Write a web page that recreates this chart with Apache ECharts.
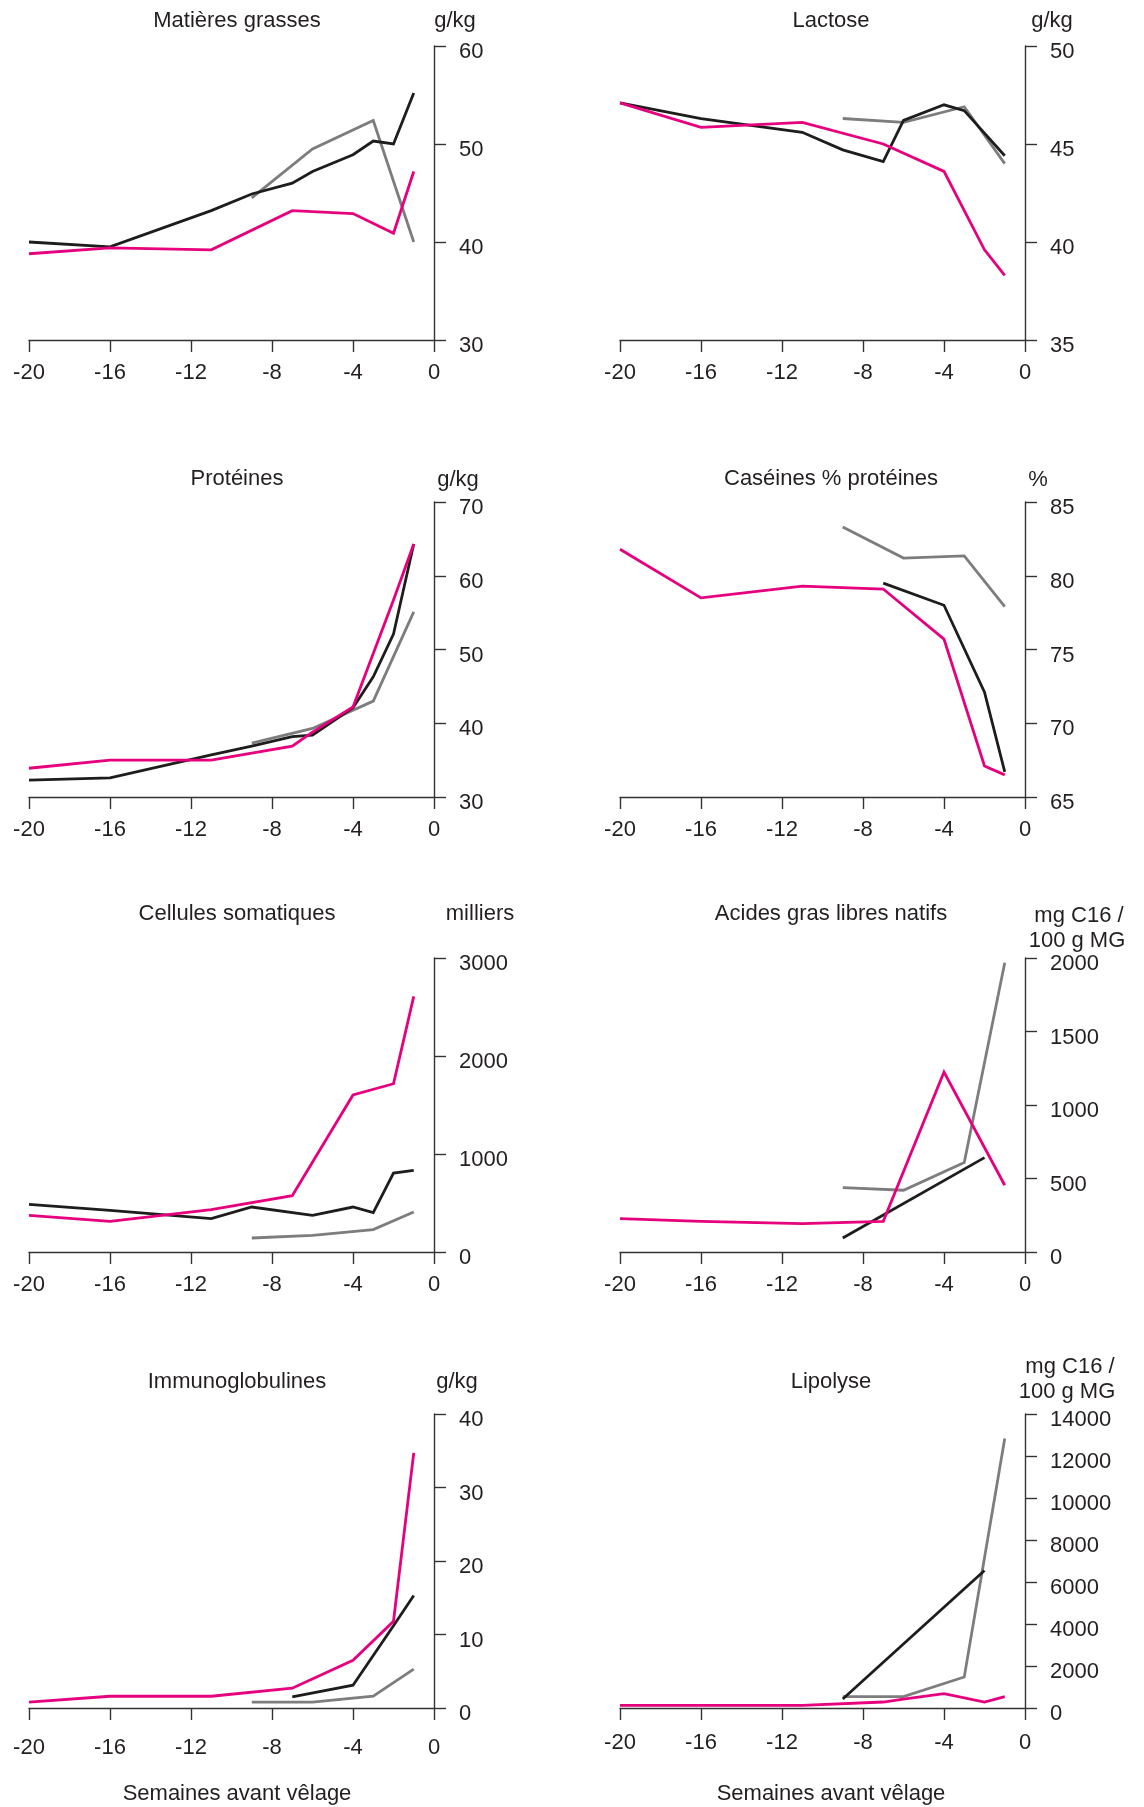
<!DOCTYPE html>
<html>
<head>
<meta charset="utf-8">
<script src="https://cdn.jsdelivr.net/npm/echarts@6/dist/echarts.min.js"></script>
<style>
html,body{margin:0;padding:0;background:#fff;}
#chart{width:1144px;height:1807px;}
</style>
</head>
<body>
<div id="chart"></div>
<script>
// ---- Data: [week before calving, value] ----
const xTicks = [-20, -16, -12, -8, -4, 0];

// Matières grasses (g/kg)
const fatGray  = [[-9,44.5],[-6,49.5],[-3,52.4],[-1,40.0]];
const fatBlack = [[-20,40.0],[-16,39.5],[-11,43.2],[-9,44.9],[-7,46.0],[-6,47.2],[-4,48.9],[-3,50.3],[-2,50.0],[-1,55.2]];
const fatPink  = [[-20,38.8],[-16,39.4],[-11,39.2],[-7,43.2],[-4,42.9],[-2,40.9],[-1,47.2]];

// Lactose (g/kg)
const lacGray  = [[-9,46.3],[-6,46.1],[-3,46.9],[-1,44.0]];
const lacBlack = [[-20,47.1],[-16,46.3],[-11,45.6],[-9,44.7],[-7,44.1],[-6,46.2],[-4,47.0],[-3,46.7],[-1,44.4]];
const lacPink  = [[-20,47.1],[-16,45.85],[-11,46.1],[-7,45.0],[-4,43.6],[-2,39.6],[-1,38.3]];

// Protéines (g/kg)
const protGray  = [[-9,37.3],[-6,39.3],[-3,43.0],[-1,55.1]];
const protBlack = [[-20,32.3],[-16,32.6],[-11,35.7],[-9,36.9],[-7,38.2],[-6,38.4],[-4,42.1],[-3,46.3],[-2,52.1],[-1,64.3]];
const protPink  = [[-20,33.9],[-16,35.0],[-11,35.0],[-7,36.9],[-6,38.8],[-4,42.2],[-2,56.7],[-1,64.3]];

// Caséines % protéines (%)
const casGray  = [[-9,83.3],[-6,81.2],[-3,81.35],[-1,77.9]];
const casBlack = [[-7,79.5],[-4,78.0],[-2,72.1],[-1,66.7]];
const casPink  = [[-20,81.8],[-16,78.5],[-11,79.3],[-7,79.1],[-4,75.7],[-2,67.1],[-1,66.5]];

// Cellules somatiques (milliers)
const cellGray  = [[-9,143],[-6,170],[-3,228],[-1,408]];
const cellBlack = [[-20,486],[-16,425],[-11,340],[-9,459],[-6,374],[-4,459],[-3,401],[-2,806],[-1,833]];
const cellPink  = [[-20,374],[-16,313],[-11,432],[-7,575],[-4,1602],[-2,1717],[-1,2609]];

// Acides gras libres natifs (mg C16 / 100 g MG)
const aglGray  = [[-9,438],[-6,420],[-3,608],[-1,1968]];
const aglBlack = [[-9,95],[-2,642]];
const aglPink  = [[-20,227],[-16,209],[-11,193],[-7,209],[-4,1224],[-1,454]];

// Immunoglobulines (g/kg)
const igGray  = [[-9,0.8],[-6,0.8],[-3,1.6],[-1,5.3]];
const igBlack = [[-7,1.5],[-4,3.1],[-2,11.2],[-1,15.3]];
const igPink  = [[-20,0.8],[-16,1.6],[-11,1.6],[-7,2.7],[-4,6.5],[-2,11.8],[-1,34.7]];

// Lipolyse (mg C16 / 100 g MG)
const lipGray  = [[-9,539],[-6,539],[-3,1475],[-1,12830]];
const lipBlack = [[-9,428],[-2,6550]];
const lipPink  = [[-20,127],[-16,127],[-11,127],[-7,285],[-6,428],[-4,682],[-2,285],[-1,539]];

const titles = ['Matières grasses','Lactose','Protéines','Caséines % protéines','Cellules somatiques','Acides gras libres natifs','Immunoglobulines','Lipolyse'];
const units = [['g/kg'],['g/kg'],['g/kg'],['%'],['milliers'],['mg C16 /','100 g MG'],['g/kg'],['mg C16 /','100 g MG']];
const yMin = [30,35,30,65,0,0,0,0];
const yMax = [60,50,70,85,3000,2000,40,14000];
const yStep = [10,5,10,5,1000,500,10,2000];
const xTitle = 'Semaines avant vêlage';

const panelSeries = [
  [fatGray, fatBlack, fatPink],
  [lacGray, lacBlack, lacPink],
  [protGray, protBlack, protPink],
  [casGray, casBlack, casPink],
  [cellGray, cellBlack, cellPink],
  [aglGray, aglBlack, aglPink],
  [igGray, igBlack, igPink],
  [lipGray, lipBlack, lipPink]
];

// ---- Layout ----
const FONT = "'Liberation Sans', Arial, Helvetica, sans-serif";
const TXT = '#231f20';
const AX = '#333333';
const colors = ['#7d7d7d', '#1d1d1b', '#e6007e'];
const colLeft = [29, 620];
const gridW = 405;
const rowTop = [46, 502, 958, 1414];
const rowH = [294, 295, 294, 294];
const titleY = [21, 479, 914, 1382];
const titleX = [237, 831];
const unitPos = [
  [[455,21]], [[1052,21]],
  [[458,480]], [[1038,480]],
  [[480,914]], [[1079,916],[1077,941]],
  [[457,1382]], [[1070,1367],[1067,1392]]
];
const xLabelMargin = [[22,22],[22,22],[22,22],[29,24]];

const grids = [], xAxes = [], yAxes = [], series = [], graphics = [];
for (let i = 0; i < 8; i++) {
  const r = Math.floor(i / 2), c = i % 2;
  grids.push({left: colLeft[c], top: rowTop[r], width: gridW, height: rowH[r], containLabel: false});
  xAxes.push({
    type: 'value', gridIndex: i, min: -20, max: 0, interval: 4, position: 'bottom',
    axisLine: {show: true, onZero: false, lineStyle: {color: AX, width: 1.4}},
    axisTick: {show: true, inside: false, length: 12, lineStyle: {color: AX, width: 1.4}},
    axisLabel: {show: true, margin: xLabelMargin[r][c], fontSize: 22, fontFamily: FONT, color: TXT,
      formatter: v => String(v)},
    splitLine: {show: false}
  });
  yAxes.push({
    type: 'value', gridIndex: i, min: yMin[i], max: yMax[i], interval: yStep[i], position: 'right',
    axisLine: {show: true, onZero: false, lineStyle: {color: AX, width: 1.4}},
    axisTick: {show: true, inside: false, length: 12, lineStyle: {color: AX, width: 1.4}},
    axisLabel: {show: true, margin: 25, fontSize: 22, fontFamily: FONT, color: TXT,
      verticalAlign: 'top', lineHeight: 12, formatter: v => String(v)},
    splitLine: {show: false}
  });
  panelSeries[i].forEach((d, k) => {
    series.push({
      type: 'line', xAxisIndex: i, yAxisIndex: i, data: d,
      symbol: 'none', showSymbol: false, smooth: false, animation: false,
      lineStyle: {color: colors[k], width: 2.8, join: 'miter'},
      z: 2 + k
    });
  });
  graphics.push({type: 'text', x: titleX[c], y: titleY[r],
    style: {text: titles[i], x: 0, y: 0, align: 'center', verticalAlign: 'middle', fontSize: 22, fontFamily: FONT, fill: TXT}});
  unitPos[i].forEach((p, k) => {
    graphics.push({type: 'text', x: p[0], y: p[1],
      style: {text: units[i][k], x: 0, y: 0, align: 'center', verticalAlign: 'middle', fontSize: 22, fontFamily: FONT, fill: TXT}});
  });
}
graphics.push({type: 'text', x: 237, y: 1794,
  style: {text: xTitle, x: 0, y: 0, align: 'center', verticalAlign: 'middle', fontSize: 22, fontFamily: FONT, fill: TXT}});
graphics.push({type: 'text', x: 831, y: 1794,
  style: {text: xTitle, x: 0, y: 0, align: 'center', verticalAlign: 'middle', fontSize: 22, fontFamily: FONT, fill: TXT}});

const chart = echarts.init(document.getElementById('chart'), null, {renderer: 'canvas'});
chart.setOption({
  animation: false,
  backgroundColor: '#ffffff',
  grid: grids,
  xAxis: xAxes,
  yAxis: yAxes,
  series: series,
  graphic: graphics
});
</script>
</body>
</html>
